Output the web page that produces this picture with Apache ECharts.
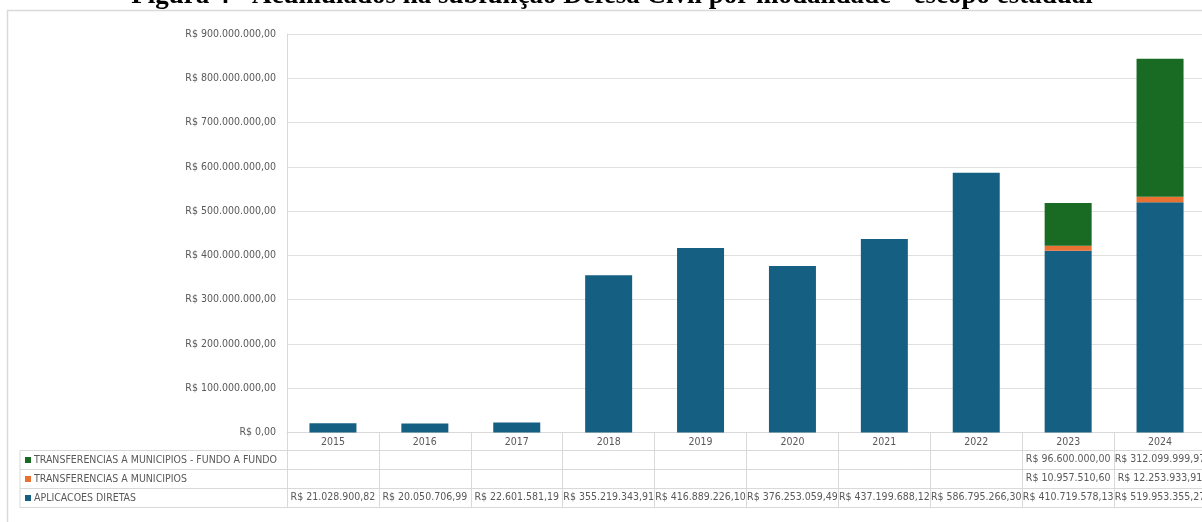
<!DOCTYPE html>
<html>
<head>
<meta charset="utf-8">
<script src="https://cdn.jsdelivr.net/npm/echarts@6/dist/echarts.min.js"></script>
<style>
  html, body { margin: 0; padding: 0; background: #fff; overflow: hidden; }
  #chart { width: 1202px; height: 522px; }
</style>
</head>
<body>
<div id="chart"></div>
<script>
// Anos da série
const years = ['2015', '2016', '2017', '2018', '2019', '2020', '2021', '2022', '2023', '2024'];

// Valores acumulados por modalidade (R$)
const aplicacoesDiretas = [21028900.82, 20050706.99, 22601581.19, 355219343.91, 416889226.10,
  376253059.49, 437199688.12, 586795266.30, 410719578.13, 519953355.27];
const transfMunicipios = [null, null, null, null, null, null, null, null, 10957510.60, 12253933.91];
const transfFundoAFundo = [null, null, null, null, null, null, null, null, 96600000.00, 312099999.97];

// Nomes das modalidades (de baixo para cima na pilha)
const seriesNames = ['APLICACOES DIRETAS', 'TRANSFERENCIAS A MUNICIPIOS', 'TRANSFERENCIAS A MUNICIPIOS - FUNDO A FUNDO'];
const seriesColors = ['#156082', '#E97132', '#196B24'];

const titleText = 'Figura 4 - Acumulados na subfunção Defesa Civil por modalidade - escopo estadual';

const FONT = "'Liberation Sans Narrow', 'DejaVu Sans Condensed', 'Roboto', sans-serif";
const FS = 10.5;
const TXT = '#595959';
const LINE = '#d9d9d9';

function brl(v) {
  if (v === null || v === undefined) return '';
  const parts = Number(v).toFixed(2).split('.');
  const inteiro = parts[0].replace(/\B(?=(\d{3})+(?!\d))/g, '.');
  return 'R$ ' + inteiro + ',' + parts[1];
}

// Linha da tabela de dados sob o eixo: rótulos centralizados em cada coluna
function tableRow(values, offset) {
  return {
    type: 'category',
    gridIndex: 0,
    position: 'bottom',
    offset: offset,
    data: values.map(brl),
    axisLine: { show: false },
    axisTick: { show: false },
    axisLabel: {
      interval: 0, margin: 2, color: TXT, fontFamily: FONT, fontSize: FS, lineHeight: 13
    }
  };
}

const chart = echarts.init(document.getElementById('chart'), null, { renderer: 'canvas' });

const markerRich = {};
seriesNames.forEach((n, i) => {
  markerRich['m' + i] = { width: 6, height: 6, backgroundColor: seriesColors[i] };
});
markerRich.t = { color: TXT, fontFamily: FONT, fontSize: FS, padding: [0, 0, 0, 3] };

chart.setOption({
  animation: false,
  backgroundColor: '#ffffff',
  title: {
    text: titleText,
    left: 612,
    top: -17,
    padding: 0,
    textAlign: 'center',
    textStyle: {
      fontFamily: "'Liberation Serif', 'Times New Roman', serif",
      fontWeight: 'bold',
      fontSize: 27,
      color: '#000'
    }
  },
  graphic: [{
    type: 'rect',
    silent: true,
    shape: { x: 7.5, y: 10.5, width: 1400, height: 700 },
    style: { fill: 'none', stroke: LINE, lineWidth: 1.5 }
  }],
  grid: [
    { left: 287, top: 34, width: 919, height: 398.5, outerBoundsMode: 'none', containLabel: false },
    { left: 20, top: 450.5, width: 1186, height: 57, outerBoundsMode: 'none', show: true, borderColor: LINE, borderWidth: 1, backgroundColor: 'transparent' }
  ],
  xAxis: [
    {
      type: 'category',
      gridIndex: 0,
      data: years,
      axisLine: { lineStyle: { color: LINE } },
      axisTick: { show: true, interval: 0, length: 75, lineStyle: { color: LINE } },
      axisLabel: { interval: 0, margin: 3, color: TXT, fontFamily: FONT, fontSize: FS, lineHeight: 13 }
    },
    tableRow(transfFundoAFundo, 18),
    tableRow(transfMunicipios, 37),
    tableRow(aplicacoesDiretas, 56),
    { type: 'value', gridIndex: 1, show: false }
  ],
  yAxis: [
    {
      type: 'value',
      gridIndex: 0,
      min: 0,
      max: 900000000,
      interval: 100000000,
      axisLine: { show: true, lineStyle: { color: LINE } },
      axisTick: { show: false },
      splitLine: { lineStyle: { color: '#e0e0e0' } },
      axisLabel: {
        margin: 11, color: TXT, fontFamily: FONT, fontSize: FS,
        formatter: v => brl(v)
      }
    },
    {
      type: 'category',
      gridIndex: 1,
      data: seriesNames,
      axisLine: { show: false },
      axisTick: { show: false },
      splitLine: { show: true, interval: 0, lineStyle: { color: LINE } },
      axisLabel: {
        inside: true,
        interval: 0,
        margin: 5,
        formatter: (name, idx) => '{m' + idx + '|}{t|' + name + '}',
        rich: markerRich
      }
    }
  ],
  series: [
    { name: seriesNames[0], type: 'bar', stack: 'total', xAxisIndex: 0, yAxisIndex: 0, barWidth: 47, data: aplicacoesDiretas, itemStyle: { color: seriesColors[0] } },
    { name: seriesNames[1], type: 'bar', stack: 'total', xAxisIndex: 0, yAxisIndex: 0, barWidth: 47, data: transfMunicipios, itemStyle: { color: seriesColors[1] } },
    { name: seriesNames[2], type: 'bar', stack: 'total', xAxisIndex: 0, yAxisIndex: 0, barWidth: 47, data: transfFundoAFundo, itemStyle: { color: seriesColors[2] } }
  ]
});
</script>
</body>
</html>
